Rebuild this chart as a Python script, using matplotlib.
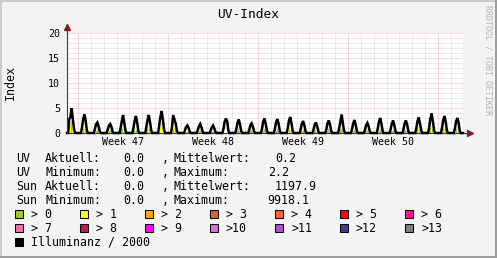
import numpy as np
import matplotlib
matplotlib.use("Agg")
import matplotlib.pyplot as plt
from matplotlib.patches import Rectangle
from matplotlib.lines import Line2D

# ---------------- data ----------------
title = "UV-Index"
y_label = "Index"
week_labels = ["Week 47", "Week 48", "Week 49", "Week 50"]
week_label_pos = [3.5, 10.5, 17.5, 24.5]          # days from Monday of week 47
week_starts = [0, 7, 14, 21, 28]
y_ticks = [0, 5, 10, 15, 20]

# noon of each day (days from Monday 00:00 of week 47)
day_noon = [d - 0.5 for d in range(31)]
illum_hours = [7.5, 9.5, 12, 14.5, 16.5]
dark_hours = [5.5, 18.5]
uv_hours = [10, 12, 14]

# illuminance in lux per day at illum_hours (plotted / 2000)
illum_lux = [
    [5600, 6200, 9918, 5000, 1400],
    [2400, 5600, 7400, 4400, 1000],
    [1600, 3400, 4200, 2600, 800],
    [1400, 2800, 3600, 2400, 600],
    [2000, 4600, 7200, 3800, 1000],
    [2200, 4800, 6800, 4000, 900],
    [2400, 5000, 7200, 4200, 1100],
    [3000, 6200, 8800, 5200, 1300],
    [2600, 7200, 5400, 3600, 900],
    [1000, 2400, 3000, 2000, 500],
    [1200, 2600, 3600, 2200, 600],
    [900, 2200, 3000, 1800, 500],
    [1800, 4400, 5800, 4600, 1000],
    [1600, 4000, 5400, 3200, 800],
    [1200, 3000, 3800, 2400, 700],
    [1800, 4600, 5800, 3400, 900],
    [1600, 4200, 5600, 3600, 900],
    [2000, 4800, 6400, 3800, 1000],
    [1400, 3600, 4800, 3000, 800],
    [1300, 3200, 4200, 2600, 700],
    [1500, 3800, 5000, 3200, 800],
    [2000, 4400, 7400, 3600, 900],
    [1600, 3800, 5200, 3000, 800],
    [1200, 3000, 4000, 2600, 700],
    [1800, 4400, 6000, 3400, 900],
    [1500, 3600, 5000, 3000, 800],
    [1500, 3800, 5000, 3200, 800],
    [2000, 4600, 6200, 3600, 1000],
    [2400, 5600, 7800, 4400, 1100],
    [2200, 5000, 6800, 4200, 1000],
    [1800, 4600, 6000, 3800, 900],
]

# UV index per day at uv_hours
uv_values = [
    [1.6, 2.2, 1.2], [0.8, 1.2, 0.7], [0.5, 0.8, 0.5], [0.4, 0.7, 0.4],
    [0.8, 1.2, 0.7], [0.7, 1.1, 0.6], [0.8, 1.3, 0.8], [1.2, 1.9, 1.1],
    [0.9, 1.4, 0.8], [0.2, 0.3, 0.2], [0.4, 0.6, 0.3], [0.3, 0.5, 0.3],
    [0.0, 0.1, 0.0], [0.5, 0.8, 0.5], [0.4, 0.7, 0.4], [0.5, 0.8, 0.5],
    [0.5, 0.8, 0.5], [0.7, 1.2, 0.7], [0.4, 0.7, 0.4], [0.4, 0.6, 0.3],
    [0.5, 0.8, 0.5], [0.6, 0.9, 0.5], [0.4, 0.7, 0.4], [0.4, 0.6, 0.3],
    [0.5, 0.8, 0.5], [0.4, 0.7, 0.4], [0.4, 0.7, 0.4], [0.8, 1.3, 0.7],
    [1.0, 1.6, 0.9], [0.9, 1.5, 0.8], [0.8, 1.2, 0.7],
]

uv_legend = ["> 0", "> 1", "> 2", "> 3", "> 4", "> 5", "> 6",
             "> 7", "> 8", "> 9", ">10", ">11", ">12", ">13"]
uv_colors = ["#9ACD32", "#FFFF00", "#FFA500", "#D2691E", "#FF6347", "#FF0000", "#FF1493",
             "#FF69B4", "#C8184F", "#FF00FF", "#DA70D6", "#B050D0", "#483D8B", "#808080"]
illum_label = "Illuminanz / 2000"
illum_divisor = 2000

stat_rows = [
    ["UV", "Aktuell:", "0.0", ",", "Mittelwert:", "0.2"],
    ["UV", "Minimum:", "0.0", ",", "Maximum:", "2.2"],
    ["Sun", "Aktuell:", "0.0", ",", "Mittelwert:", "1197.9"],
    ["Sun", "Minimum:", "0.0", ",", "Maximum:", "9918.1"],
]

# ---------------- figure ----------------
W, H = 497, 258
fig = plt.figure(figsize=(W / 100, H / 100), dpi=100, facecolor="#F3F3F3")
MONO = "DejaVu Sans Mono"

def fx(px):
    return px / W

def fy(py):
    return 1 - py / H

left, right, top, bottom = 67, 463, 33, 133
ax = fig.add_axes([fx(left), fy(bottom), (right - left) / W, (bottom - top) / H])
ax.set_facecolor("white")
x0, x1 = -0.86, 29.94
ax.set_xlim(x0, x1)
ax.set_ylim(0, 20)
for s in ax.spines.values():
    s.set_visible(False)

# grid
minor_c = "#D8D8D8"
major_c = "#F2B4B4"
dot = (0, (1, 1))
for yv in range(1, 21):
    if yv % 5:
        ax.axhline(yv, color=minor_c, lw=0.72, ls=dot, zorder=0)
for d in range(0, 30):
    if d not in week_starts:
        ax.axvline(d, color=minor_c, lw=0.72, ls=dot, zorder=0)
for yv in y_ticks[1:]:
    ax.axhline(yv, color=major_c, lw=0.72, ls=dot, zorder=0.5)
for d in week_starts:
    ax.axvline(d, color=major_c, lw=0.72, ls=dot, zorder=0.5)

# UV bars coloured by level
bx, bh, bc = [], [], []
for noon, vals in zip(day_noon, uv_values):
    for h, v in zip(uv_hours, vals):
        if v <= 0:
            continue
        lvl = max(i for i in range(len(uv_colors)) if v > i)
        bx.append(noon + (h - 12) / 24)
        bh.append(v)
        bc.append(uv_colors[lvl])
ax.bar(bx, bh, width=2 / 24, color=bc, linewidth=0, zorder=2)

# illuminance line
tx, ty = [x0], [0.0]
for noon, vals in zip(day_noon, illum_lux):
    tx.append(noon + (dark_hours[0] - 12) / 24)
    ty.append(0.0)
    for h, v in zip(illum_hours, vals):
        tx.append(noon + (h - 12) / 24)
        ty.append(v / illum_divisor)
    tx.append(noon + (dark_hours[1] - 12) / 24)
    ty.append(0.0)
tx.append(x1)
ty.append(0.0)
ax.plot(tx, ty, color="black", lw=1.8, zorder=3, clip_on=False, solid_joinstyle="miter")

# axes with arrows
ax.plot([0, 0], [0, 1.055], transform=ax.transAxes, color="#3A3A3A", lw=0.8, clip_on=False, zorder=4)
ax.plot([0], [1.06], marker="^", color="#7F1F1F", ms=4.5, transform=ax.transAxes, clip_on=False, zorder=5)
ax.plot([0, 1.012], [0, 0], transform=ax.transAxes, color="#3A3A3A", lw=0.8, clip_on=False, zorder=2.5)
ax.plot([1.018], [0], marker=">", color="#7F1F1F", ms=4.5, transform=ax.transAxes, clip_on=False, zorder=5)

# ticks
ax.set_yticks(y_ticks)
ax.set_yticklabels([str(v) for v in y_ticks], fontfamily=MONO, fontsize=7.2)
ax.set_xticks(week_label_pos)
ax.set_xticklabels(week_labels, fontfamily=MONO, fontsize=7.2)
ax.tick_params(axis="y", length=0, pad=5)
ax.tick_params(axis="x", length=0, pad=3)

# title and labels
fig.text(fx(248.5), fy(14), title, ha="center", va="center", fontfamily=MONO, fontsize=9.3)
fig.text(fx(10), fy(83), y_label, ha="center", va="center", rotation=90, fontfamily=MONO, fontsize=8.4)
fig.text(fx(488), fy(60), "RRDTOOL / TOBI OETIKER", ha="center", va="center", rotation=270,
         fontfamily=MONO, fontsize=6, color="#B4B4B4")

# stats text
col_x = [16.5, 45, 123, 162, 174]
val_x = [275, 268, 275, 267]
row_y = [158, 172, 186, 200]
for r, ry in enumerate(row_y):
    parts = stat_rows[r]
    for c in range(5):
        fig.text(fx(col_x[c]), fy(ry), parts[c], ha="left", va="center", fontfamily=MONO, fontsize=8.4)
    fig.text(fx(val_x[r]), fy(ry), parts[5], ha="left", va="center", fontfamily=MONO, fontsize=8.4)

# legend
leg_y = [214, 228]
for i, (lab, col) in enumerate(zip(uv_legend, uv_colors)):
    row, k = divmod(i, 7)
    sx = 15 + 65 * k
    sy = leg_y[row]
    fig.patches.append(Rectangle((fx(sx), fy(sy + 4)), 8 / W, 8 / H, transform=fig.transFigure,
                                 facecolor=col, edgecolor="black", lw=0.75))
    fig.text(fx(sx + 16), fy(sy), lab, ha="left", va="center", fontfamily=MONO, fontsize=8.4)
fig.patches.append(Rectangle((fx(15), fy(246)), 8 / W, 8 / H, transform=fig.transFigure,
                             facecolor="black", edgecolor="black", lw=0.75))
fig.text(fx(31), fy(242), illum_label, ha="left", va="center", fontfamily=MONO, fontsize=8.4)

# frame shading
fig.add_artist(Line2D([0, 1], [fy(0.75), fy(0.75)], transform=fig.transFigure, color="#CBCBCB", lw=1.4))
fig.add_artist(Line2D([fx(0.75), fx(0.75)], [0, 1], transform=fig.transFigure, color="#CBCBCB", lw=1.4))
fig.add_artist(Line2D([0, 1], [fy(257.25), fy(257.25)], transform=fig.transFigure, color="#9C9C9C", lw=1.4))
fig.add_artist(Line2D([fx(496.25), fx(496.25)], [0, 1], transform=fig.transFigure, color="#9C9C9C", lw=1.4))

fig.savefig("out.png", dpi=100, facecolor=fig.get_facecolor())
